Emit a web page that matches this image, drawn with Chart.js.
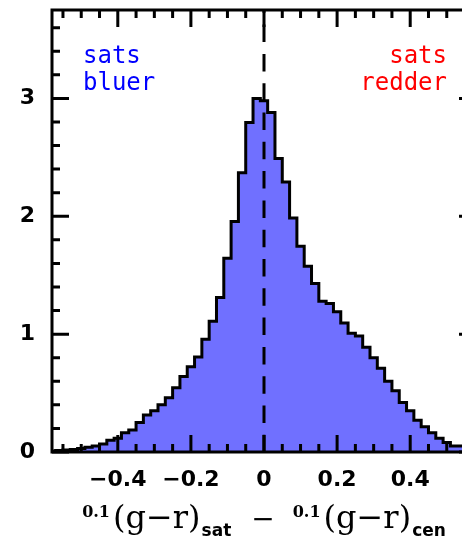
<!DOCTYPE html>
<html>
<head>
<meta charset="utf-8">
<script src="https://cdn.jsdelivr.net/npm/chart.js@4.4.0/dist/chart.umd.min.js"></script>
<style>
  html, body { margin: 0; padding: 0; background: #fff; overflow: hidden; }
  #wrap { width: 490px; height: 542px; }
</style>
</head>
<body>
<div id="wrap"><canvas id="histChart" width="490" height="542"></canvas></div>
<script>
// satellite minus central colour, normalised histogram, bins of 0.02
const binCenters = [
  -0.58, -0.56, -0.54, -0.52, -0.50, -0.48, -0.46, -0.44, -0.42, -0.40,
  -0.38, -0.36, -0.34, -0.32, -0.30, -0.28, -0.26, -0.24, -0.22, -0.20,
  -0.18, -0.16, -0.14, -0.12, -0.10, -0.08, -0.06, -0.04, -0.02, 0.00,
  0.02, 0.04, 0.06, 0.08, 0.10, 0.12, 0.14, 0.16, 0.18, 0.20,
  0.22, 0.24, 0.26, 0.28, 0.30, 0.32, 0.34, 0.36, 0.38, 0.40,
  0.42, 0.44, 0.46, 0.48, 0.50, 0.52, 0.54
];
const binValues = [
  0.005, 0.008, 0.012, 0.016, 0.022, 0.030, 0.040, 0.050, 0.068, 0.100,
  0.116, 0.164, 0.187, 0.250, 0.314, 0.350, 0.400, 0.460, 0.545, 0.640,
  0.724, 0.805, 0.957, 1.110, 1.310, 1.644, 1.955, 2.370, 2.795, 3.000,
  2.980, 2.880, 2.490, 2.290, 1.985, 1.745, 1.575, 1.430, 1.280, 1.260,
  1.190, 1.095, 1.007, 0.985, 0.888, 0.800, 0.710, 0.600, 0.520, 0.420,
  0.350, 0.270, 0.215, 0.164, 0.116, 0.080, 0.050
];
const binWidth = 0.02;

const xTickVals = [-0.4, -0.2, 0, 0.2, 0.4];
const yTickVals = [0, 1, 2, 3];
const xRange = [-0.58, 0.58];
const yRange = [0, 3.75];
const xMajorStep = 0.2, xMinorStep = 0.05;
const yMajorStep = 1, yMinorStep = 0.2;

// step outline: one point per left bin edge, plus the closing right edge
const histPoints = binCenters.map((c, i) => ({ x: c - binWidth / 2, y: binValues[i] }));
histPoints.push({ x: binCenters[binCenters.length - 1] + binWidth / 2, y: binValues[binValues.length - 1] });

const fmt = v => (v === 0 ? '0' : (v < 0 ? '\u2212' : '') + Math.abs(v).toString());

function tickRun(min, max, step, major) {
  const out = [];
  for (let k = Math.ceil(min / step - 1e-9); k <= Math.floor(max / step + 1e-9); k++) {
    const v = k * step;
    const r = v / major;
    out.push({ v, major: Math.abs(r - Math.round(r)) < 1e-6 });
  }
  return out;
}

const framePlugin = {
  id: 'frame',
  afterDatasetsDraw(chart) {
    const { ctx, chartArea: a, scales: { x, y } } = chart;
    ctx.save();
    ctx.strokeStyle = '#000';
    ctx.lineWidth = 3;

    // dashed line at zero
    const x0 = x.getPixelForValue(0);
    ctx.setLineDash([17.5, 11.8]);
    ctx.lineDashOffset = 14.7;
    ctx.beginPath();
    ctx.moveTo(x0, a.top);
    ctx.lineTo(x0, a.bottom);
    ctx.stroke();
    ctx.setLineDash([]);

    // box
    ctx.strokeRect(a.left, a.top, a.right - a.left, a.bottom - a.top);

    // inward ticks on all four sides
    ctx.beginPath();
    tickRun(xRange[0], xRange[1], xMinorStep, xMajorStep).forEach(t => {
      const px = x.getPixelForValue(t.v);
      const len = t.major ? 17 : 8;
      ctx.moveTo(px, a.bottom); ctx.lineTo(px, a.bottom - len);
      ctx.moveTo(px, a.top); ctx.lineTo(px, a.top + len);
    });
    tickRun(yRange[0], yRange[1], yMinorStep, yMajorStep).forEach(t => {
      const py = y.getPixelForValue(t.v);
      const len = t.major ? 17 : 8;
      ctx.moveTo(a.left, py); ctx.lineTo(a.left + len, py);
      ctx.moveTo(a.right, py); ctx.lineTo(a.right - len, py);
    });
    ctx.stroke();
    ctx.restore();
  },
  afterDraw(chart) {
    const { ctx, chartArea: a, scales: { x } } = chart;
    ctx.save();

    // corner notes
    ctx.font = '24px "DejaVu Sans Mono"';
    ctx.textBaseline = 'alphabetic';
    ctx.fillStyle = '#0000ff';
    ctx.textAlign = 'left';
    ctx.fillText('sats', a.left + 31, a.top + 53);
    ctx.fillText('bluer', a.left + 31, a.top + 80);
    ctx.fillStyle = '#ff0000';
    ctx.textAlign = 'right';
    ctx.fillText('sats', a.right - 29, a.top + 53);
    ctx.fillText('redder', a.right - 29, a.top + 80);

    // axis title with super/subscripts
    const sup = 'bold 16px "DejaVu Serif"';
    const main = '32px "DejaVu Serif"';
    const sub = 'bold 17px "DejaVu Sans"';
    const parts = [
      { t: '0.1', f: sup, dy: -11, gap: 3 },
      { t: '(g\u2212r)', f: main, dy: 0, gap: 1 },
      { t: 'sat', f: sub, dy: 8, gap: 20 },
      { t: '\u2212', f: '28px "DejaVu Serif"', dy: 0, gap: 18 },
      { t: '0.1', f: sup, dy: -11, gap: 3 },
      { t: '(g\u2212r)', f: main, dy: 0, gap: 1 },
      { t: 'cen', f: sub, dy: 8, gap: 0 }
    ];
    let total = 0;
    parts.forEach(p => {
      ctx.font = p.f;
      p.w = ctx.measureText(p.t).width;
      total += p.w + p.gap;
    });
    let cx = x.getPixelForValue(0) - total / 2;
    const base = a.bottom + 76;
    ctx.fillStyle = '#000';
    ctx.textAlign = 'left';
    parts.forEach(p => {
      ctx.font = p.f;
      ctx.fillText(p.t, cx, base + p.dy);
      cx += p.w + p.gap;
    });
    ctx.restore();
  }
};

const tickFont = { family: '"DejaVu Sans"', size: 22, weight: 'bold' };

new Chart(document.getElementById('histChart'), {
  type: 'line',
  data: {
    datasets: [{
      data: histPoints,
      stepped: 'after',
      fill: 'origin',
      backgroundColor: '#7070ff',
      borderColor: '#000',
      borderWidth: 3,
      borderJoinStyle: 'miter',
      pointRadius: 0,
      tension: 0
    }]
  },
  options: {
    responsive: false,
    animation: false,
    layout: { padding: { left: 0, top: 10, right: 14, bottom: 0 } },
    plugins: { legend: { display: false }, tooltip: { enabled: false } },
    scales: {
      x: {
        type: 'linear',
        min: xRange[0],
        max: xRange[1],
        grid: { display: false, drawTicks: false },
        border: { display: false },
        afterBuildTicks: s => { s.ticks = xTickVals.map(v => ({ value: v })); },
        afterFit: s => { s.height = 90; s.paddingLeft = 0; s.paddingRight = 0; },
        ticks: { color: '#000', font: tickFont, padding: 15, maxRotation: 0, autoSkip: false, callback: v => fmt(v) }
      },
      y: {
        min: yRange[0],
        max: yRange[1],
        grid: { display: false, drawTicks: false },
        border: { display: false },
        afterBuildTicks: s => { s.ticks = yTickVals.map(v => ({ value: v })); },
        afterFit: s => { s.width = 52; s.paddingTop = 0; s.paddingBottom = 0; },
        ticks: { color: '#000', font: tickFont, padding: 17, callback: v => fmt(v) }
      }
    }
  },
  plugins: [framePlugin]
});
</script>
</body>
</html>
